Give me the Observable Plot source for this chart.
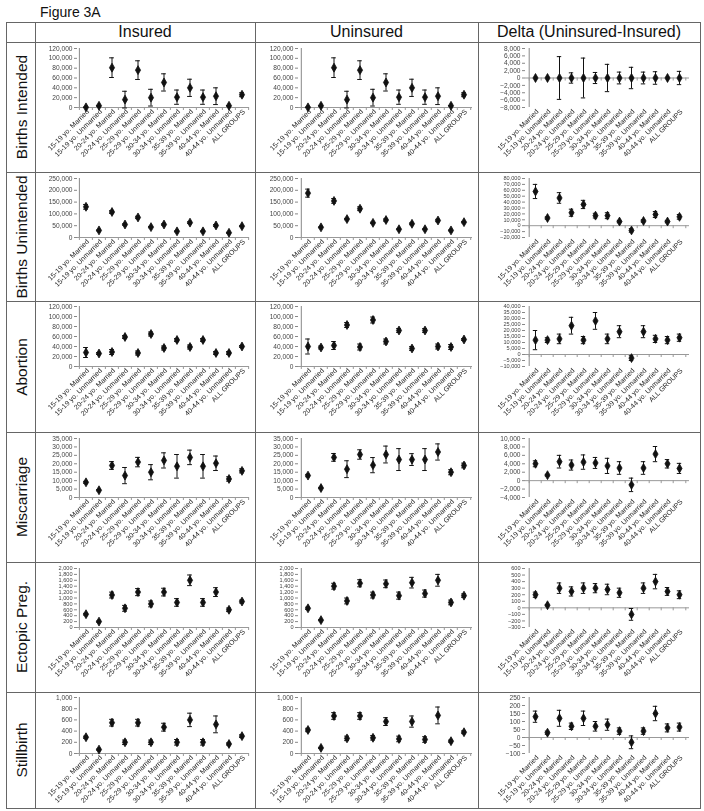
<!DOCTYPE html>
<html><head><meta charset="utf-8">
<script src="https://cdn.jsdelivr.net/npm/d3@7"></script>
<script src="https://cdn.jsdelivr.net/npm/@observablehq/plot@0.6"></script>
<style>
body{margin:0;background:#fff;font-family:"Liberation Sans",Arial,sans-serif;}
#wrap{position:relative;width:704px;height:811px;}
.title{position:absolute;left:40px;top:4px;font-size:14px;color:#111;}
.cell{position:absolute;box-sizing:border-box;}
.cell svg{filter:grayscale(100%);}
.hdr{font-size:16px;text-align:center;line-height:20px;color:#111;}
.rlab{position:absolute;white-space:nowrap;font-size:15.5px;color:#111;transform:translate(-50%,-50%) rotate(-90deg);}
.hline{position:absolute;height:1px;background:#666;}
.vline{position:absolute;width:1px;background:#666;}
</style></head>
<body><div id="wrap"><div class="title">Figure 3A</div></div>
<script>
const categories = ["15-19 yo. Married","15-19 yo. Unmarried","20-24 yo. Married","20-24 yo. Unmarried","25-29 yo. Married","25-29 yo. Unmarried","30-34 yo. Married","30-34 yo. Unmarried","35-39 yo. Married","35-39 yo. Unmarried","40-44 yo. Married","40-44 yo. Unmarried","ALL GROUPS"];
const columnTitles = ["Insured","Uninsured","Delta (Uninsured-Insured)"];
const rowTitles = ["Births Intended","Births Unintended","Abortion","Miscarriage","Ectopic Preg.","Stillbirth"];

// Births intended
const intendedInsured = [300,3500,81000,16000,76000,20000,51000,21000,40000,21000,23000,3500,26000];
const intendedInsuredErr = [500,800,20000,17000,19000,17000,17500,14500,17500,14500,17000,500,4000];
const intendedUninsured = [300,3500,81000,16000,76000,20000,51000,21000,40000,21000,23000,3500,26000];
const intendedUninsuredErr = [500,800,20000,17000,19000,17000,17500,14500,17500,14500,17000,500,4000];
const intendedDelta = [0,0,0,0,0,0,0,0,0,0,0,0,0];
const intendedDeltaErr = [0,0,5800,1400,5400,1500,3700,1600,2900,1600,1700,0,1800];
// Births unintended
const unintendedInsured = [130000,30000,108000,55000,85000,44000,55000,26000,63000,26000,51000,20000,48000];
const unintendedInsuredErr = [10000,2000,6000,3000,5000,3000,3000,2000,4000,2000,4000,2000,2000];
const unintendedUninsured = [188000,43000,155000,78000,122000,62000,74000,35000,58000,35000,72000,30000,65000];
const unintendedUninsuredErr = [17000,2000,10000,3000,8000,3000,5000,2000,4000,2000,5000,2000,3000];
const unintendedDelta = [58000,13000,47000,22000,36000,17000,17000,7000,-8000,8000,19000,7000,15000];
const unintendedDeltaErr = [12000,2000,9000,6000,7000,4000,5000,2000,3000,2000,5000,2000,4000];
// Abortion
const abortionInsured = [28000,26000,29000,59000,27000,65000,37000,53000,39000,53000,27000,27000,40000];
const abortionInsuredErr = [10000,2000,5000,3000,4000,4000,4000,3000,4000,3000,3000,3000,2000];
const abortionUninsured = [40000,38000,42000,83000,39000,93000,50000,72000,36000,72000,40000,39000,54000];
const abortionUninsuredErr = [15000,3000,8000,5000,6000,6000,5000,4000,4000,4000,5000,5000,2000];
const abortionDelta = [12000,12000,13000,24000,12000,28000,13000,19000,-3000,19000,13000,12000,14000];
const abortionDeltaErr = [8000,2000,4000,7000,3000,7000,4000,5000,2000,5000,3000,3000,3000];
// Miscarriage
const miscarriageInsured = [9000,4300,19000,13000,21000,15000,22000,18500,23800,18500,20300,11000,15800];
const miscarriageInsuredErr = [600,400,2300,4800,2800,4500,4500,7000,4300,7000,4300,1300,1200];
const miscarriageUninsured = [13000,5600,23800,16800,25500,19200,25500,22500,22500,22500,27000,15000,19000];
const miscarriageUninsuredErr = [700,400,2300,5000,2800,4500,5000,6500,3500,6500,4800,1500,1400];
const miscarriageDelta = [4000,1300,4500,3700,4400,4200,3500,3000,-1000,3000,6300,4000,2900];
const miscarriageDeltaErr = [700,200,1500,1200,1700,1300,1800,1500,1600,1500,1800,1000,1200];
// Ectopic pregnancy
const ectopicInsured = [450,200,1100,650,1200,800,1200,850,1600,850,1200,600,880];
const ectopicInsuredErr = [30,20,100,100,120,100,130,130,180,130,150,60,50];
const ectopicUninsured = [650,250,1400,900,1500,1100,1480,1080,1520,1150,1600,850,1080];
const ectopicUninsuredErr = [40,20,100,100,120,100,130,120,180,120,200,80,60];
const ectopicDelta = [200,40,300,250,300,300,280,230,-100,300,400,250,200];
const ectopicDeltaErr = [40,10,80,70,80,70,80,70,90,80,110,60,60];
// Stillbirth
const stillInsured = [290,70,550,200,550,200,470,200,600,200,520,170,310];
const stillInsuredErr = [20,10,60,40,60,40,70,50,120,50,150,20,25];
const stillUninsured = [420,100,670,270,670,280,570,260,570,250,680,220,380];
const stillUninsuredErr = [30,10,60,40,60,40,70,50,100,50,150,20,25];
const stillDelta = [130,30,120,70,120,70,80,40,-30,40,150,60,65];
const stillDeltaErr = [35,10,50,20,45,30,35,20,40,20,45,25,25];

// Y-axis tick labels
const ticksIntended = [0,20000,40000,60000,80000,100000,120000];
const ticksIntendedDelta = [-8000,-6000,-4000,-2000,0,2000,4000,6000,8000];
const ticksUnintended = [0,50000,100000,150000,200000,250000];
const ticksUnintendedDelta = [-20000,-10000,0,10000,20000,30000,40000,50000,60000,70000,80000];
const ticksAbortion = [0,20000,40000,60000,80000,100000,120000];
const ticksAbortionDelta = [-10000,-5000,0,5000,10000,15000,20000,25000,30000,35000,40000];
const ticksMiscarriage = [0,5000,10000,15000,20000,25000,30000,35000];
const ticksMiscarriageDelta = [-4000,-2000,0,2000,4000,6000,8000,10000];
const ticksEctopic = [0,200,400,600,800,1000,1200,1400,1600,1800,2000];
const ticksEctopicDelta = [-300,-200,-100,0,100,200,300,400,500,600];
const ticksStill = [0,200,400,600,800,1000];
const ticksStillDelta = [-100,-50,0,50,100,150,200,250];

const rows = [
  [[intendedInsured,intendedInsuredErr,ticksIntended],[intendedUninsured,intendedUninsuredErr,ticksIntended],[intendedDelta,intendedDeltaErr,ticksIntendedDelta]],
  [[unintendedInsured,unintendedInsuredErr,ticksUnintended],[unintendedUninsured,unintendedUninsuredErr,ticksUnintended],[unintendedDelta,unintendedDeltaErr,ticksUnintendedDelta]],
  [[abortionInsured,abortionInsuredErr,ticksAbortion],[abortionUninsured,abortionUninsuredErr,ticksAbortion],[abortionDelta,abortionDeltaErr,ticksAbortionDelta]],
  [[miscarriageInsured,miscarriageInsuredErr,ticksMiscarriage],[miscarriageUninsured,miscarriageUninsuredErr,ticksMiscarriage],[miscarriageDelta,miscarriageDeltaErr,ticksMiscarriageDelta]],
  [[ectopicInsured,ectopicInsuredErr,ticksEctopic],[ectopicUninsured,ectopicUninsuredErr,ticksEctopic],[ectopicDelta,ectopicDeltaErr,ticksEctopicDelta]],
  [[stillInsured,stillInsuredErr,ticksStill],[stillUninsured,stillUninsuredErr,ticksStill],[stillDelta,stillDeltaErr,ticksStillDelta]]
];

// layout
const colX = [6, 35, 255, 478, 700];
const rowY = [22, 42, 172, 301, 432, 562, 692, 808];
const colMargins = [[42,6],[43,6],[47,11]];
const rowPlotTop = [5, 5, 4, 5, 5, 4];
const rowPlotH = [59, 59, 60, 59, 59, 56];

const wrap = document.getElementById("wrap");
function line(cls, x, y, len) {
  const d = document.createElement("div");
  d.className = cls;
  d.style.left = x + "px"; d.style.top = y + "px";
  if (cls === "hline") d.style.width = len + "px"; else d.style.height = len + "px";
  wrap.appendChild(d);
}
rowY.forEach(y => line("hline", colX[0], y, colX[4] - colX[0] + 1));
colX.forEach(x => line("vline", x, rowY[0], rowY[rowY.length-1] - rowY[0] + 1));

columnTitles.forEach((t, i) => {
  const d = document.createElement("div");
  d.className = "cell hdr";
  d.style.left = colX[i+1] + "px"; d.style.top = rowY[0] + "px";
  d.style.width = (colX[i+2] - colX[i+1]) + "px"; d.style.height = (rowY[1]-rowY[0]) + "px";
  d.textContent = t;
  wrap.appendChild(d);
});
rowTitles.forEach((t, r) => {
  const d = document.createElement("div");
  d.className = "rlab";
  d.style.left = ((colX[0] + colX[1]) / 2 + 1) + "px";
  d.style.top = ((rowY[r+1] + rowY[r+2]) / 2) + "px";
  d.textContent = t;
  wrap.appendChild(d);
});

const fmt = d3.format(",");
rows.forEach((row, r) => {
  row.forEach(([vals, errs, ticks], c) => {
    const data = categories.map((cat, i) => ({cat, v: vals[i], lo: vals[i] - errs[i], hi: vals[i] + errs[i], err: errs[i]}));
    const w = colX[c+2] - colX[c+1];
    const h = rowY[r+2] - rowY[r+1] - 2;
    const [ml, mr] = colMargins[c];
    const bw = (w - ml - mr) / categories.length;
    const ymin = d3.min(ticks), ymax = d3.max(ticks);
    const dense = ticks.length > 9;
    const withErr = data.filter(d => d.err > 0);
    const plotTop = rowPlotTop[r], plotH = rowPlotH[r];
    const plot = Plot.plot({
      width: w, height: h,
      marginLeft: ml, marginRight: mr, marginTop: plotTop, marginBottom: h - plotTop - plotH,
      style: {fontFamily: "Liberation Sans, Arial, sans-serif", background: "transparent", color: "#333", overflow: "visible"},
      x: {type: "band", domain: categories, padding: 0},
      y: {domain: [ymin, ymax]},
      marks: [
        Plot.axisY({ticks, tickFormat: fmt, tickSize: 3, tickPadding: 2, fontSize: dense ? 5.6 : 6.6, fill: "#444", stroke: "#888", label: null}),
        Plot.axisX({tickRotate: -45, tickSize: 0, tickPadding: 3, fontSize: 7, fill: "#222", label: null, dx: 2}),
        Plot.ruleX([categories[0]], {dx: -bw/2, y1: ymin, y2: ymax, stroke: "#888"}),
        Plot.ruleY([0], {stroke: "#999"}),
        Plot.ruleX(categories, {x: d => d, y1: 0, y2: 0, insetBottom: -3, dx: -bw/2, stroke: "#999"}),
        Plot.ruleX([categories[categories.length-1]], {y1: 0, y2: 0, insetBottom: -3, dx: bw/2, stroke: "#999"}),
        Plot.ruleX(withErr, {x: "cat", y1: "lo", y2: "hi", stroke: "#111", strokeWidth: 1}),
        Plot.tickY(withErr, {x: "cat", y: "lo", insetLeft: bw/2 - 2.5, insetRight: bw/2 - 2.5, stroke: "#111"}),
        Plot.tickY(withErr, {x: "cat", y: "hi", insetLeft: bw/2 - 2.5, insetRight: bw/2 - 2.5, stroke: "#111"}),
        Plot.dot(data, {x: "cat", y: "v", symbol: "diamond", r: 2.7, fill: "#111", stroke: "#111", strokeWidth: 0.8})
      ]
    });
    const d = document.createElement("div");
    d.className = "cell";
    d.style.left = colX[c+1] + "px"; d.style.top = (rowY[r+1] + 1) + "px";
    d.appendChild(plot);
    wrap.appendChild(d);
  });
});
</script>
</body></html>
